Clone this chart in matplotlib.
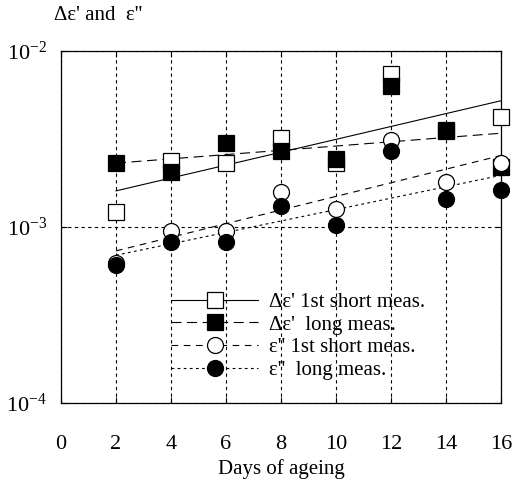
import matplotlib
matplotlib.use("Agg")
import matplotlib.pyplot as plt
from matplotlib.lines import Line2D

plt.rcParams['font.family'] = ['Liberation Serif', 'DejaVu Serif']
plt.rcParams['mathtext.default'] = 'regular'

days = [2, 4, 6, 8, 10, 12, 14, 16]
de_short = [1.22e-3, 2.38e-3, 2.3e-3, 3.2e-3, 2.3e-3, 7.4e-3, 3.55e-3, 4.2e-3]
de_long = [2.3e-3, 2.06e-3, 3.0e-3, 2.68e-3, 2.44e-3, 6.3e-3, 3.48e-3, 2.2e-3]
e2_short = [6.2e-4, 9.5e-4, 9.5e-4, 1.58e-3, 1.26e-3, 3.1e-3, 1.79e-3, 2.29e-3]
e2_long = [6.05e-4, 8.2e-4, 8.2e-4, 1.31e-3, 1.02e-3, 2.68e-3, 1.43e-3, 1.61e-3]

# fitted trend lines (end points)
fit_days = [2, 16]
fit_de_short = [1.6e-3, 5.2e-3]
fit_de_long = [2.3e-3, 3.4e-3]
fit_e2_short = [7.3e-4, 2.54e-3]
fit_e2_long = [6.9e-4, 1.96e-3]

labels = ["\u0394\u03b5' 1st short meas.", "\u0394\u03b5'  long meas.",
          "\u03b5'' 1st short meas.", "\u03b5''  long meas."]
xticks = [0, 2, 4, 6, 8, 10, 12, 14, 16]
yticks = [1e-4, 1e-3, 1e-2]
yticklabels = ['$10^{-4}$', '$10^{-3}$', '$10^{-2}$']

fig = plt.figure(figsize=(5.15, 4.82), dpi=100)
ax = fig.add_axes([0.1184, 0.164, 0.8544, 0.7308])

styles = [
    dict(marker='s', mfc='white', ms=12, ls='-', dashes=None),
    dict(marker='s', mfc='black', ms=12, ls='--', dashes=(9, 5)),
    dict(marker='o', mfc='white', ms=11.5, ls='--', dashes=(6, 5)),
    dict(marker='o', mfc='black', ms=11.5, ls=':', dashes=(2.5, 3)),
]
fits = [fit_de_short, fit_de_long, fit_e2_short, fit_e2_long]
series = [de_short, de_long, e2_short, e2_long]

for fit, st in zip(fits, styles):
    ln, = ax.plot(fit_days, fit, color='black', lw=0.8, ls=st['ls'], zorder=2)
    if st['dashes']:
        ln.set_dashes(st['dashes'])

for i in [0, 2, 1, 3]:
    st = styles[i]
    ax.plot(days, series[i], ls='none', marker=st['marker'], ms=st['ms'],
            mfc=st['mfc'], mec='black', mew=0.9, zorder=3 + i, clip_on=False)

handles = []
for st in styles:
    h = Line2D([], [], color='black', lw=0.8, ls=st['ls'], marker=st['marker'],
               ms=st['ms'], mfc=st['mfc'], mec='black', mew=0.9)
    if st['dashes']:
        h.set_dashes(st['dashes'])
    handles.append(h)

ax.legend(handles, labels, loc='lower left', bbox_to_anchor=(0.25, 0.065),
          frameon=False, fontsize=15, handlelength=4.2, handletextpad=0.5,
          labelspacing=0.15, borderpad=0, borderaxespad=0)

ax.set_yscale('log')
ax.set_xlim(0, 16)
ax.set_ylim(1e-4, 1e-2)
ax.set_xticks(xticks)
ax.set_yticks(yticks)
ax.set_yticklabels(yticklabels)
ax.minorticks_off()
ax.tick_params(direction='in', labelsize=16, length=4, width=0.8,
               top=True, right=True)
ax.tick_params(axis='x', pad=23)
ax.tick_params(axis='y', pad=10)
ax.grid(True, color='black', lw=0.8, ls=(0, (3, 3)))
for sp in ax.spines.values():
    sp.set_linewidth(0.9)

ax.set_xlabel("Days of ageing", fontsize=15, labelpad=4)
fig.text(0.105, 0.968, "\u0394\u03b5' and  \u03b5''", fontsize=15, va='center')

fig.savefig("out.png", dpi=100)
